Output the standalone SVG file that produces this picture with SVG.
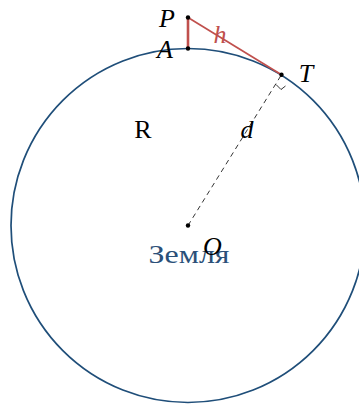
<svg xmlns="http://www.w3.org/2000/svg" width="359" height="406" viewBox="0 0 359 406">
<defs>
<style>
.dot{fill:#000}
</style>
</defs>
<rect width="359" height="406" fill="#fff"/>
<g id="earth">
<circle cx="188" cy="225.5" r="177" fill="none" stroke="#1f4e79" stroke-width="1.7"/>
<text x="189" y="263" font-family="Liberation Serif, DejaVu Serif, serif" font-size="26" text-anchor="middle" fill="#2b5079" textLength="81" lengthAdjust="spacingAndGlyphs">Земля</text>
</g>
<g id="connectors">
<line x1="188" y1="225.5" x2="281.5" y2="74.7" stroke="#000" stroke-width="0.8" stroke-dasharray="5,4"/>
<line x1="188" y1="17.5" x2="188" y2="48.5" stroke="#c0504d" stroke-width="2.6"/>
<line x1="188" y1="17.5" x2="281.5" y2="74.7" stroke="#c0504d" stroke-width="1.7"/>
<polyline points="276,84.5 281,89.5 285.5,86" fill="none" stroke="#000" stroke-width="0.8"/>
</g>
<g id="O">
<circle class="dot" cx="188" cy="225.5" r="2.2"/>
<text x="212.5" y="255" font-family="Liberation Serif, DejaVu Serif, serif" font-size="26" font-style="italic" text-anchor="middle">O</text>
</g>
<g id="P">
<circle class="dot" cx="188" cy="17.5" r="2.2"/>
<text x="167" y="27" font-family="Liberation Serif, DejaVu Serif, serif" font-size="26" font-style="italic" text-anchor="middle">P</text>
</g>
<g id="A">
<circle class="dot" cx="188" cy="48.5" r="2.2"/>
<text x="165" y="58" font-family="Liberation Serif, DejaVu Serif, serif" font-size="26" font-style="italic" text-anchor="middle">A</text>
</g>
<g id="T">
<circle class="dot" cx="281.5" cy="74.7" r="2.2"/>
<text x="306" y="82" font-family="Liberation Serif, DejaVu Serif, serif" font-size="26" font-style="italic" text-anchor="middle">T</text>
</g>
<g id="labels">
<text x="220" y="43" font-family="Liberation Serif, DejaVu Serif, serif" font-size="26" font-style="italic" text-anchor="middle" fill="#c0504d">h</text>
<text x="247" y="138" font-family="Liberation Serif, DejaVu Serif, serif" font-size="26" font-style="italic" text-anchor="middle">d</text>
<text x="143" y="138" font-family="Liberation Serif, DejaVu Serif, serif" font-size="26" text-anchor="middle">R</text>
</g>
</svg>
